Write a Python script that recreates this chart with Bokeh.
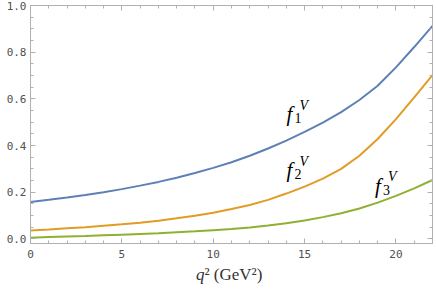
from bokeh.plotting import figure
from bokeh.layouts import column
from bokeh.models import (LinearAxis, SingleIntervalTicker, NumeralTickFormatter,
                          Range1d, Label)
from bokeh.core.properties import value
from bokeh.embed import file_html
from bokeh.resources import INLINE

# ---- data ----
q2 = [0, 1, 2, 3, 4, 5, 6, 7, 8, 9, 10, 11, 12, 13, 14, 15, 16, 17, 18, 19, 20, 21, 22]
f1 = [0.158, 0.167, 0.177, 0.188, 0.200, 0.213, 0.228, 0.244, 0.262, 0.282, 0.304, 0.328,
      0.356, 0.387, 0.421, 0.458, 0.498, 0.543, 0.595, 0.656, 0.735, 0.822, 0.913]
f2 = [0.036, 0.040, 0.045, 0.050, 0.056, 0.062, 0.069, 0.078, 0.088, 0.099, 0.112, 0.128,
      0.145, 0.167, 0.194, 0.224, 0.258, 0.300, 0.356, 0.428, 0.513, 0.606, 0.702]
f3 = [0.005, 0.008, 0.010, 0.012, 0.015, 0.018, 0.021, 0.024, 0.028, 0.032, 0.037, 0.042,
      0.049, 0.057, 0.067, 0.079, 0.093, 0.110, 0.130, 0.155, 0.184, 0.216, 0.252]
series_names = ["1", "2", "3"]
colors = ["#5E81B5", "#E19C24", "#8FB032"]

# label anchor positions (data coords) for f_i^V
label_x = [14.01, 14.01, 18.85]
label_y = [0.535, 0.293, 0.227]

FW = 402
LB = 30
RB = 4

p = figure(frame_width=FW, frame_height=238, output_backend="svg", toolbar_location=None,
           x_range=Range1d(0, 22), y_range=Range1d(-0.02, 1.0),
           min_border_left=LB, min_border_right=RB, min_border_top=5, min_border_bottom=0,
           x_axis_location=None, y_axis_location=None)
p.outline_line_color = None
p.xgrid.visible = False
p.ygrid.visible = False

AX = "#b0b0b0"
TICK_FONT = "DejaVu Sans Mono"

def style(ax, labels):
    ax.axis_line_color = AX
    ax.major_tick_line_color = AX
    ax.minor_tick_line_color = AX
    ax.major_tick_in = 5
    ax.major_tick_out = 0
    ax.minor_tick_in = 3
    ax.minor_tick_out = 0
    if labels:
        ax.major_label_text_font = TICK_FONT
        ax.major_label_text_font_size = "11px"
        ax.major_label_text_color = "#505050"
    else:
        ax.major_label_text_font_size = "1px"
        ax.major_label_text_color = None
        ax.major_label_standoff = 0

xb = LinearAxis(ticker=SingleIntervalTicker(interval=5, num_minor_ticks=5))
style(xb, True)
xb.major_label_standoff = 6
p.add_layout(xb, "below")
xt = LinearAxis(ticker=SingleIntervalTicker(interval=5, num_minor_ticks=5))
style(xt, False)
p.add_layout(xt, "above")

yl = LinearAxis(ticker=SingleIntervalTicker(interval=0.2, num_minor_ticks=4),
                formatter=NumeralTickFormatter(format="0.0"))
style(yl, True)
yl.major_label_standoff = 4
p.add_layout(yl, "left")
yr = LinearAxis(ticker=SingleIntervalTicker(interval=0.2, num_minor_ticks=4))
style(yr, False)
p.add_layout(yr, "right")

for ys, c in zip([f1, f2, f3], colors):
    p.line(q2, ys, line_color=c, line_width=2)

SERIF = "Liberation Serif"
for n, lx, ly in zip(series_names, label_x, label_y):
    p.add_layout(Label(x=lx, y=ly, text="f", text_font=SERIF, text_font_style="italic",
                       text_font_size="21px", text_align="left", text_baseline="alphabetic",
                       text_color="black"))
    p.add_layout(Label(x=lx, y=ly, x_offset=8, y_offset=-4, text=n, text_font=SERIF,
                       text_font_size="14px", text_align="left", text_baseline="alphabetic",
                       text_color="black"))
    p.add_layout(Label(x=lx, y=ly, x_offset=13, y_offset=9, text="V", text_font=SERIF,
                       text_font_style="italic", text_font_size="14px", text_align="left",
                       text_baseline="alphabetic", text_color="black"))

# strip below the chart that carries the x-axis title  q^2 (GeV^2)
t = figure(frame_width=FW, frame_height=28, output_backend="svg", toolbar_location=None,
           x_range=p.x_range, y_range=Range1d(0, 1),
           min_border_left=LB, min_border_right=RB, min_border_top=0, min_border_bottom=0,
           x_axis_location=None, y_axis_location=None)
t.outline_line_color = None
t.xgrid.visible = False
t.ygrid.visible = False
t.text(x=[9.52], y=[0.5], text=["q"], text_font=value(SERIF), text_font_style="italic",
       text_font_size="17px", text_align="right", text_baseline="middle",
       text_color="#333333")
t.text(x=[9.52], y=[0.5], text=["\u00b2 (GeV\u00b2)"], text_font=value(SERIF),
       text_font_size="17px", text_align="left", text_baseline="middle",
       text_color="#333333")

layout = column(p, t, spacing=0)
open("out.html", "w").write(file_html(layout, INLINE))
